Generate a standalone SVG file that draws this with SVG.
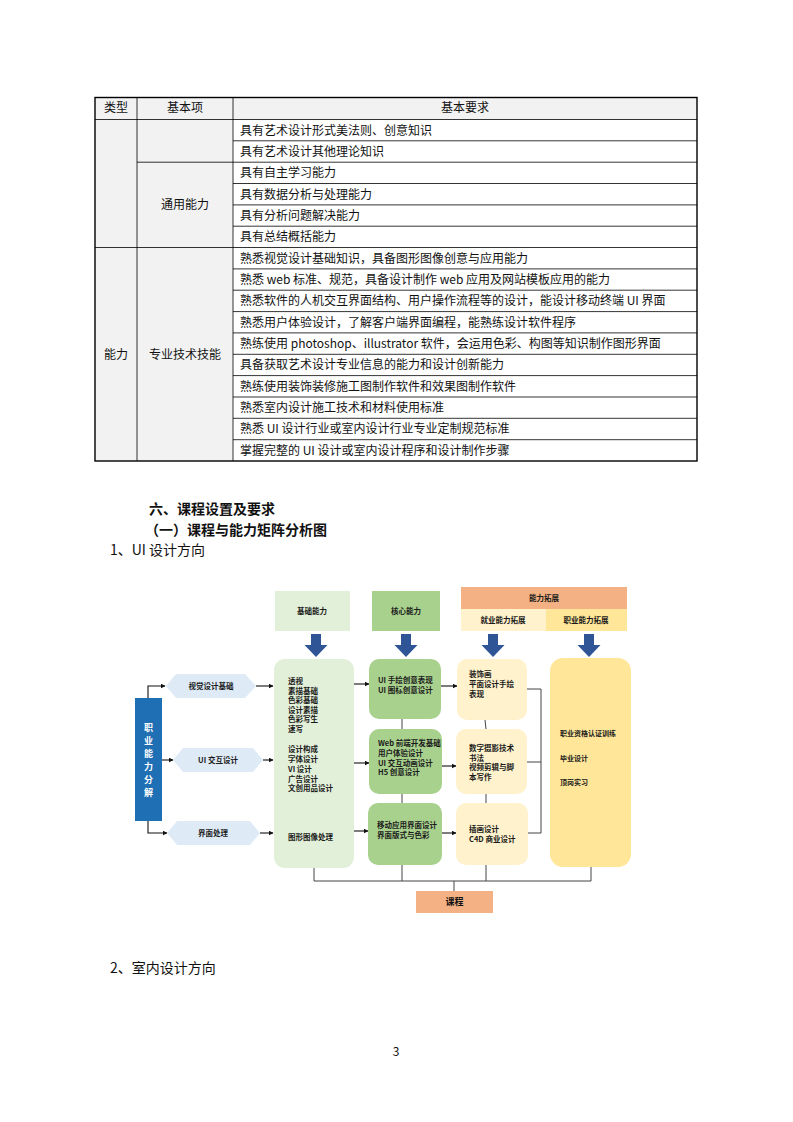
<svg xmlns="http://www.w3.org/2000/svg" width="793" height="1122" viewBox="0 0 793 1122">
<defs>
<style>
text{font-family:"Noto Sans CJK SC","Noto Sans",sans-serif;fill:#111}
.t{font-size:12px}
.c{text-anchor:middle}
.h{font-size:14px;font-weight:bold}
.n{font-size:14px}
.s{font-size:7.5px;fill:#1a1a1a;font-weight:bold}
.xs{font-size:7px;fill:#1a1a1a;font-weight:bold}
.grid line{stroke:#000;stroke-width:0.8}
.con{fill:none;stroke:#444;stroke-width:1}
.arr{fill:none;stroke:#111;stroke-width:1.1}
</style>
<marker id="ah" viewBox="0 0 10 10" refX="9" refY="5" markerWidth="5" markerHeight="5" orient="auto" markerUnits="userSpaceOnUse">
<path d="M0,0 L10,5 L0,10 Z" fill="#111"/>
</marker>
<path id="big" d="M-5,0 H5 V11 H11.5 L0,23 L-11.5,11 H-5 Z" fill="#2f5597"/>
</defs>
<rect width="793" height="1122" fill="#fff"/>

<!-- TABLE -->
<g id="table">
<rect x="95" y="97.5" width="602" height="22" fill="#f2f2f2"/>
<rect x="95" y="119.5" width="138" height="341.5" fill="#f2f2f2"/>
<g class="grid">
<line x1="95" y1="119.5" x2="697" y2="119.5"/>
<line x1="137" y1="97.5" x2="137" y2="461"/>
<line x1="233" y1="97.5" x2="233" y2="461"/>
<line x1="233" y1="140.8" x2="697" y2="140.8"/>
<line x1="137" y1="162.2" x2="697" y2="162.2"/>
<line x1="233" y1="183.5" x2="697" y2="183.5"/>
<line x1="233" y1="204.9" x2="697" y2="204.9"/>
<line x1="233" y1="226.2" x2="697" y2="226.2"/>
<line x1="95" y1="247.5" x2="697" y2="247.5"/>
<line x1="233" y1="268.9" x2="697" y2="268.9"/>
<line x1="233" y1="290.2" x2="697" y2="290.2"/>
<line x1="233" y1="311.6" x2="697" y2="311.6"/>
<line x1="233" y1="332.9" x2="697" y2="332.9"/>
<line x1="233" y1="354.3" x2="697" y2="354.3"/>
<line x1="233" y1="375.6" x2="697" y2="375.6"/>
<line x1="233" y1="397" x2="697" y2="397"/>
<line x1="233" y1="418.3" x2="697" y2="418.3"/>
<line x1="233" y1="439.7" x2="697" y2="439.7"/>
</g>
<rect x="95" y="97.5" width="602" height="363.5" fill="none" stroke="#000" stroke-width="1.4"/>
<text class="t c" x="116" y="112">类型</text>
<text class="t c" x="185" y="112">基本项</text>
<text class="t c" x="465" y="112">基本要求</text>
<text class="t c" x="185" y="209">通用能力</text>
<text class="t c" x="116" y="358.5">能力</text>
<text class="t c" x="185" y="358.5">专业技术技能</text>
<text class="t" x="240" y="134.5">具有艺术设计形式美法则、创意知识</text>
<text class="t" x="240" y="155.8">具有艺术设计其他理论知识</text>
<text class="t" x="240" y="177.2">具有自主学习能力</text>
<text class="t" x="240" y="198.5">具有数据分析与处理能力</text>
<text class="t" x="240" y="219.9">具有分析问题解决能力</text>
<text class="t" x="240" y="241.2">具有总结概括能力</text>
<text class="t" x="240" y="262.6">熟悉视觉设计基础知识，具备图形图像创意与应用能力</text>
<text class="t" x="240" y="283.9">熟悉 web 标准、规范，具备设计制作 web 应用及网站模板应用的能力</text>
<text class="t" x="240" y="305.3">熟悉软件的人机交互界面结构、用户操作流程等的设计，能设计移动终端 UI 界面</text>
<text class="t" x="240" y="326.6">熟悉用户体验设计，了解客户端界面编程，能熟练设计软件程序</text>
<text class="t" x="240" y="348">熟练使用 photoshop、illustrator 软件，会运用色彩、构图等知识制作图形界面</text>
<text class="t" x="240" y="369.3">具备获取艺术设计专业信息的能力和设计创新能力</text>
<text class="t" x="240" y="390.7">熟练使用装饰装修施工图制作软件和效果图制作软件</text>
<text class="t" x="240" y="412">熟悉室内设计施工技术和材料使用标准</text>
<text class="t" x="240" y="433.4">熟悉 UI 设计行业或室内设计行业专业定制规范标准</text>
<text class="t" x="240" y="454.7">掌握完整的 UI 设计或室内设计程序和设计制作步骤</text>
</g>

<!-- HEADINGS -->
<g id="headings">
<text class="h" x="149" y="514">六、课程设置及要求</text>
<text class="h" x="145" y="535">（一）课程与能力矩阵分析图</text>
<text class="n" x="110" y="555">1、UI 设计方向</text>
<text class="n" x="110" y="973">2、室内设计方向</text>
<text class="t c" x="396" y="1056">3</text>
</g>

<!-- CONNECTORS -->
<g id="connectors">
<polyline class="arr" points="148,698 148,686 165,686" marker-end="url(#ah)"/>
<line class="arr" x1="162" y1="760" x2="173" y2="760" marker-end="url(#ah)"/>
<polyline class="arr" points="148,821 148,833 167,833" marker-end="url(#ah)"/>
<line class="arr" x1="256" y1="686" x2="273" y2="686" marker-end="url(#ah)"/>
<line class="arr" x1="263" y1="760" x2="273" y2="760" marker-end="url(#ah)"/>
<line class="arr" x1="260" y1="833" x2="273" y2="833" marker-end="url(#ah)"/>
<line class="arr" x1="354" y1="684" x2="369" y2="684" marker-end="url(#ah)"/>
<line class="arr" x1="354" y1="763" x2="369" y2="763" marker-end="url(#ah)"/>
<line class="arr" x1="354" y1="831" x2="368" y2="831" marker-end="url(#ah)"/>
<line class="arr" x1="441" y1="686" x2="457" y2="686" marker-end="url(#ah)"/>
<line class="arr" x1="442" y1="766" x2="456" y2="766" marker-end="url(#ah)"/>
<line class="arr" x1="442" y1="833" x2="456" y2="833" marker-end="url(#ah)"/>
<line class="con" x1="402" y1="719" x2="402" y2="729"/>
<line class="con" x1="402" y1="794" x2="402" y2="803"/>
<line class="con" x1="402" y1="865" x2="402" y2="881"/>
<line class="con" x1="485" y1="720" x2="486" y2="729"/>
<line class="con" x1="486" y1="794" x2="486" y2="803"/>
<line class="con" x1="486" y1="865" x2="486" y2="881"/>
<polyline class="con" points="527,689 541,689 541,833 528,833"/>
<line class="con" x1="527" y1="762" x2="541" y2="762"/>
<line class="con" x1="314" y1="868" x2="314" y2="881"/>
<line class="con" x1="591" y1="867" x2="591" y2="881"/>
<line class="con" x1="314" y1="881" x2="591" y2="881"/>
<line class="con" x1="454" y1="881" x2="454" y2="891"/>
</g>

<!-- BIG ARROWS -->
<g id="down-arrows">
<use href="#big" x="316" y="634"/>
<use href="#big" x="406" y="634"/>
<use href="#big" x="493" y="634"/>
<use href="#big" x="589" y="634"/>
</g>

<!-- NODES -->
<g id="hdr-basic">
<rect x="275" y="591" width="75" height="40" fill="#e2efd9"/>
<text class="s c" x="312" y="614">基础能力</text>
</g>
<g id="hdr-core">
<rect x="372" y="591" width="68" height="40" fill="#a9d18e"/>
<text class="s c" x="406" y="614">核心能力</text>
</g>
<g id="hdr-ext">
<rect x="461" y="587" width="166" height="22" fill="#f4b183"/>
<text class="s c" x="544" y="601">能力拓展</text>
<rect x="461" y="609" width="85" height="22" fill="#fff2cc"/>
<text class="s c" x="503" y="623">就业能力拓展</text>
<rect x="546" y="609" width="81" height="22" fill="#ffe699"/>
<text class="s c" x="586" y="623">职业能力拓展</text>
</g>

<g id="decomp">
<rect x="135" y="698" width="27" height="123" fill="#1f6fb4"/>
<g font-size="9" font-weight="bold" text-anchor="middle">
<text x="148.5" y="731" style="fill:#fff">职</text>
<text x="148.5" y="744" style="fill:#fff">业</text>
<text x="148.5" y="757" style="fill:#fff">能</text>
<text x="148.5" y="770" style="fill:#fff">力</text>
<text x="148.5" y="783" style="fill:#fff">分</text>
<text x="148.5" y="796" style="fill:#fff">解</text>
</g>
</g>

<g id="hex-visual">
<polygon points="166,686 176,674 245,674 256,686 245,698 176,698" fill="#deebf7"/>
<text class="s c" x="211" y="689">视觉设计基础</text>
</g>
<g id="hex-ui">
<polygon points="173,760 183,748 253,748 263,760 253,772 183,772" fill="#deebf7"/>
<text class="s c" x="218" y="763">UI 交互设计</text>
</g>
<g id="hex-iface">
<polygon points="167,833 177,821 250,821 260,833 250,845 177,845" fill="#deebf7"/>
<text class="s c" x="213" y="836">界面处理</text>
</g>

<g id="box-basic">
<rect x="274" y="659" width="80" height="209" rx="11" fill="#e2efd9"/>
<text class="s" x="288" y="684">透视</text>
<text class="s" x="288" y="693.5">素描基础</text>
<text class="s" x="288" y="703">色彩基础</text>
<text class="s" x="288" y="712.5">设计素描</text>
<text class="s" x="288" y="722">色彩写生</text>
<text class="s" x="288" y="731.5">速写</text>
<text class="s" x="288" y="752">设计构成</text>
<text class="s" x="288" y="762">字体设计</text>
<text class="s" x="288" y="772">VI 设计</text>
<text class="s" x="288" y="781.5">广告设计</text>
<text class="s" x="288" y="791">文创用品设计</text>
<text class="s" x="288" y="840">图形图像处理</text>
</g>

<g id="core-1">
<rect x="369" y="659" width="72" height="60" rx="10" fill="#a9d18e"/>
<text class="s" x="378" y="683">UI 手绘创意表现</text>
<text class="s" x="378" y="692.5">UI 图标创意设计</text>
</g>
<g id="core-2">
<rect x="369" y="729" width="73" height="65" rx="10" fill="#a9d18e"/>
<text class="s" x="378" y="746">Web 前端开发基础</text>
<text class="s" x="378" y="756">用户体验设计</text>
<text class="s" x="378" y="765.5">UI 交互动画设计</text>
<text class="s" x="378" y="775">H5 创意设计</text>
</g>
<g id="core-3">
<rect x="368" y="803" width="74" height="62" rx="10" fill="#a9d18e"/>
<text class="s" x="377" y="828">移动应用界面设计</text>
<text class="s" x="377" y="838">界面版式与色彩</text>
</g>

<g id="emp-1">
<rect x="457" y="659" width="70" height="61" rx="10" fill="#fff2cc"/>
<text class="s" x="469" y="677">装饰画</text>
<text class="s" x="469" y="687">平面设计手绘</text>
<text class="s" x="469" y="696.5">表现</text>
</g>
<g id="emp-2">
<rect x="456" y="729" width="71" height="65" rx="10" fill="#fff2cc"/>
<text class="s" x="469" y="751">数字摄影技术</text>
<text class="s" x="469" y="760.5">书法</text>
<text class="s" x="469" y="770">视频剪辑与脚</text>
<text class="s" x="469" y="779.5">本写作</text>
</g>
<g id="emp-3">
<rect x="456" y="803" width="72" height="62" rx="10" fill="#fff2cc"/>
<text class="s" x="469" y="832">插画设计</text>
<text class="s" x="469" y="841.5">C4D 商业设计</text>
</g>

<g id="career">
<rect x="550" y="658" width="81" height="209" rx="13" fill="#ffe699"/>
<text class="xs" x="560" y="736">职业资格认证训练</text>
<text class="xs" x="560" y="760.5">毕业设计</text>
<text class="xs" x="560" y="785">顶岗实习</text>
</g>

<g id="course">
<rect x="416" y="891" width="77" height="22" fill="#f4b183"/>
<text class="c" x="454.5" y="905" font-size="9" font-weight="bold">课程</text>
</g>
</svg>
